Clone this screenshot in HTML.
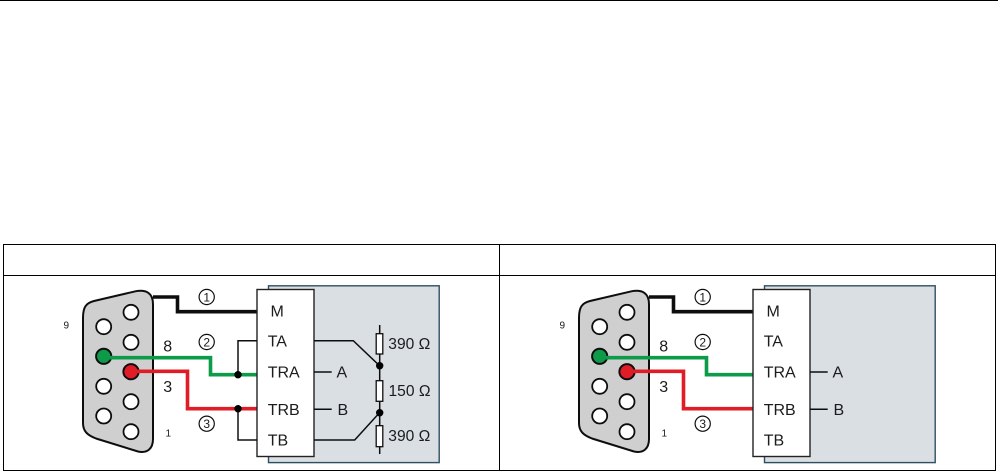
<!DOCTYPE html>
<html><head><meta charset="utf-8"><style>
html,body{margin:0;padding:0;background:#fff;width:998px;height:471px;overflow:hidden}
svg{display:block}
text{font-family:"Liberation Sans",sans-serif;fill:#1a1a1a}
</style></head><body>
<svg width="998" height="471" viewBox="0 0 998 471" xmlns="http://www.w3.org/2000/svg">
<defs>
<filter id="soft" x="-5%" y="-5%" width="110%" height="110%"><feGaussianBlur stdDeviation="0.3"/></filter>
<g id="conn">
<path d="M83 318C83 307 86 303 94 301L136 291.2C146 289.5 153 293 153 304V439C153 449 147 453.5 138 451.5L96 438.5C87 435 83 431 83 423Z" fill="#cfcfcf" stroke="#111" stroke-width="2"/>
<g fill="#fff" stroke="#111" stroke-width="1.8">
<circle cx="131" cy="312.3" r="7.5"/><circle cx="131" cy="342.3" r="7.5"/><circle cx="131" cy="401.7" r="7.5"/><circle cx="131" cy="431.7" r="7.5"/>
<circle cx="103.7" cy="326.7" r="7.5"/><circle cx="103.7" cy="386.3" r="7.5"/><circle cx="103.7" cy="416" r="7.5"/>
</g>
<circle cx="103.7" cy="364" r="0" fill="none"/>
<circle cx="103.7" cy="356.3" r="7.6" fill="#0a9a4a" stroke="#111" stroke-width="2"/>
<circle cx="131" cy="371.7" r="7.6" fill="#e01f26" stroke="#111" stroke-width="2"/>
<path d="M153 297H177.5V311.7H258" fill="none" stroke="#111" stroke-width="3.6"/>
<path d="M104 357.7H210.5V374.7H258" fill="none" stroke="#0a9a4a" stroke-width="3.6"/>
<path d="M131 371.3H187.5V408.7H258" fill="none" stroke="#e01f26" stroke-width="3.6"/>
<g fill="none" stroke="#111" stroke-width="1.2">
<circle cx="206.7" cy="297" r="7.6"/><circle cx="206.7" cy="342" r="7.6"/><circle cx="206.7" cy="423.7" r="7.6"/>
</g>
<g font-size="12" text-anchor="middle">
<text x="206.7" y="301.3">1</text><text x="206.7" y="346.3">2</text><text x="206.7" y="428">3</text>
</g>
<text x="163.3" y="351.5" font-size="16">8</text>
<text x="163.3" y="392" font-size="16">3</text>
<text x="63.5" y="328.5" font-size="10">9</text>
<text x="165.5" y="436.5" font-size="10">1</text>
<rect x="268.5" y="285.8" width="170.7" height="176.8" fill="#d9dfe3" stroke="#2f4f60" stroke-width="1.4"/>
<rect x="257" y="289.5" width="57" height="167" fill="#fff" stroke="#222" stroke-width="1.4"/>
<g font-size="16">
<text x="270.5" y="316.7">M</text>
<text x="267.7" y="346.7">TA</text>
<text x="267.7" y="377.3">TRA</text>
<text x="267.7" y="415">TRB</text>
<text x="267.7" y="445.7">TB</text>
<text x="336.5" y="377.3">A</text>
<text x="337.5" y="415">B</text>
</g>
<path d="M314 372H331.7M314 409.3H331.7" stroke="#111" stroke-width="1.5" fill="none"/>
</g>
</defs>
<rect x="0" y="0" width="998" height="1" fill="#000"/>
<g fill="none" stroke="#000" stroke-width="1">
<rect x="3.5" y="244.5" width="992" height="226"/>
<path d="M3.5 275.5H995.5M499.5 244.5V470.5"/>
</g>
<g filter="url(#soft)">
<use href="#conn"/>
<use href="#conn" transform="translate(496 0)"/>
<g fill="none" stroke="#111" stroke-width="1.5">
<path d="M257 340.7H238V374.7M238 408.7V440H257"/>
<path d="M314 340.7H353.3L379.5 365.7M314 440H354.7L379.5 412.7"/>
<path d="M379.7 325V454"/>
</g>
<g fill="#fff" stroke="#111" stroke-width="1.3">
<rect x="376.2" y="333.7" width="6.6" height="20.3"/>
<rect x="376.2" y="380.7" width="6.6" height="20.6"/>
<rect x="376.2" y="425.7" width="6.6" height="21"/>
</g>
<g fill="#000">
<circle cx="238" cy="374.7" r="3.7"/><circle cx="238" cy="408.7" r="3.7"/>
<circle cx="379.7" cy="365.7" r="3.7"/><circle cx="379.7" cy="412.7" r="3.7"/>
</g>
<g font-size="15.6">
<text x="388.3" y="349">390 Ω</text>
<text x="388.5" y="396">150 Ω</text>
<text x="388.3" y="441">390 Ω</text>
</g>
</g>
</svg>
</body></html>
